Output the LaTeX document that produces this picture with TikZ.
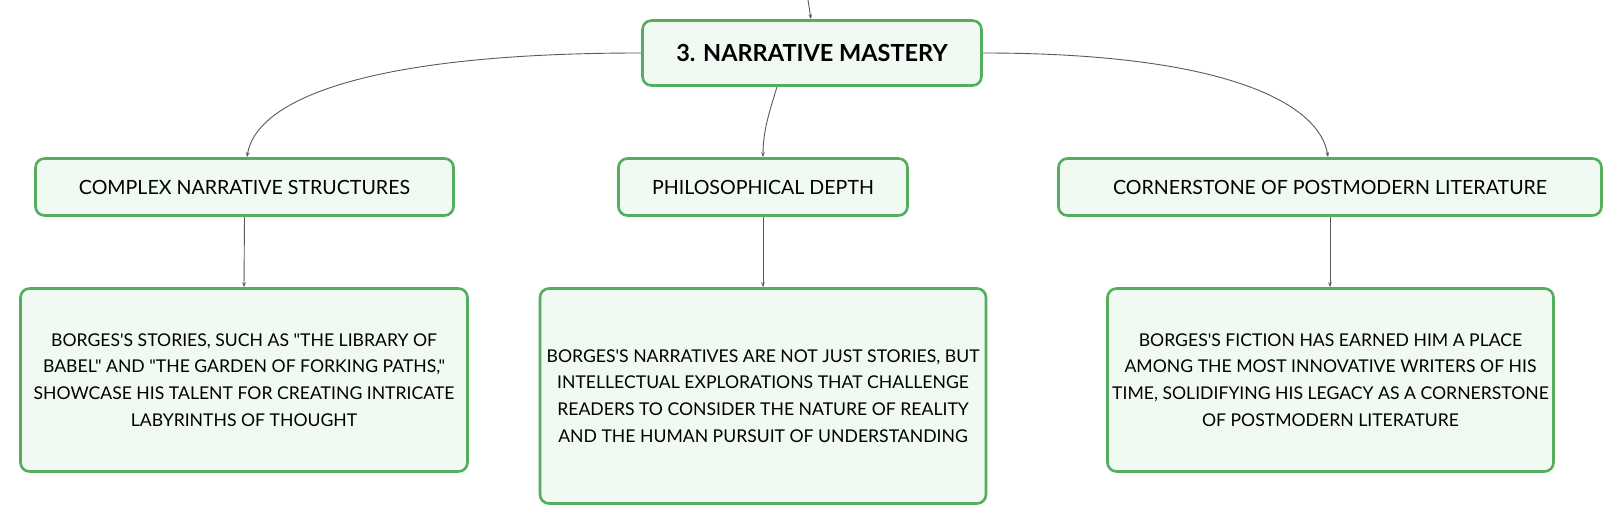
\documentclass[tikz,border=0pt]{standalone}
\usepackage{fontspec}
\setmainfont{Lato}
\newfontfamily\plainlato{Lato}[Ligatures=ResetAll]
\usetikzlibrary{arrows.meta}
\definecolor{boxgreen}{RGB}{84,174,94}
\definecolor{boxfill}{RGB}{241,249,243}
\definecolor{linkgray}{RGB}{90,90,90}
\tikzset{
  box/.style={draw=boxgreen, line width=2.6pt, fill=boxfill, rounded corners=9pt,
    align=center, inner sep=0pt, text=black},
  titlefont/.style={font=\plainlato\fontsize{19.6}{23}\selectfont},
  bodyfont/.style={font=\plainlato\fontsize{17.6}{26.7}\selectfont},
  link/.style={draw=linkgray, line width=0.9pt, -{Stealth[length=5pt,width=3.5pt]}},
}
\begin{document}
\begin{tikzpicture}[x=1pt,y=-1pt]
\useasboundingbox (0,0) rectangle (1624,526);
\node[box, minimum width=339pt, minimum height=65pt, font=\plainlato\fontsize{23.5}{27}\selectfont\bfseries] (top) at (812,53) {3. NARRATIVE MASTERY};
\node[box, titlefont, minimum width=418pt, minimum height=57pt] (c1) at (244.5,187) {COMPLEX NARRATIVE STRUCTURES};
\node[box, titlefont, minimum width=289pt, minimum height=57pt] (c2) at (763,187) {PHILOSOPHICAL DEPTH};
\node[box, titlefont, minimum width=543pt, minimum height=57pt] (c3) at (1330,187) {CORNERSTONE OF POSTMODERN LITERATURE};
\node[box, bodyfont, minimum width=447pt, minimum height=183pt] (d1) at (244,380) {BORGES'S STORIES, SUCH AS "THE LIBRARY OF\\BABEL" AND "THE GARDEN OF FORKING PATHS,"\\SHOWCASE HIS TALENT FOR CREATING INTRICATE\\LABYRINTHS OF THOUGHT};
\node[box, bodyfont, minimum width=446pt, minimum height=215pt] (d2) at (763,396) {BORGES'S NARRATIVES ARE NOT JUST STORIES, BUT\\INTELLECTUAL EXPLORATIONS THAT CHALLENGE\\READERS TO CONSIDER THE NATURE OF REALITY\\AND THE HUMAN PURSUIT OF UNDERSTANDING};
\node[box, bodyfont, minimum width=446pt, minimum height=183pt] (d3) at (1330.5,380) {BORGES'S FICTION HAS EARNED HIM A PLACE\\AMONG THE MOST INNOVATIVE WRITERS OF HIS\\TIME, SOLIDIFYING HIS LEGACY AS A CORNERSTONE\\OF POSTMODERN LITERATURE};
\coordinate (in) at (808,0);
\draw[link] (in) .. controls (809,8) .. (top.north -| 811,0);
\draw[link] (top.west) .. controls (350,53) and (255,105) .. (c1.north -| 247,0);
\draw[link] (top.east) .. controls (1230,53) and (1320,105) .. (c3.north -| 1328,0);
\draw[link] (top.south -| 777,0) .. controls (770,110) and (763,130) .. (c2.north);
\draw[link] (c1.south) -- (d1.north);
\draw[link] (c2.south) -- (d2.north);
\draw[link] (c3.south -| 1330,0) -- (d3.north -| 1330,0);
\end{tikzpicture}
\end{document}
